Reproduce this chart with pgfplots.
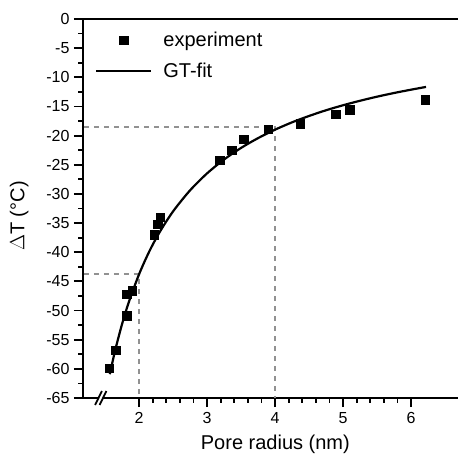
\documentclass[border=0pt]{standalone}
\usepackage{fontspec}
\setmainfont{Liberation Sans}
\usepackage{pgfplots}
\pgfplotsset{compat=1.18}
\usetikzlibrary{calc}
\definecolor{dashgray}{RGB}{145,145,145}
\pgfplotsset{
  markleg/.style={legend image code/.code={\draw[##1] plot coordinates {(27.5pt,0pt)};}},
  lineleg/.style={legend image code/.code={\draw[##1] (0pt,0pt) -- (55pt,0pt);}},
}
\begin{document}
\begin{tikzpicture}
\begin{axis}[
  at={(0,0)}, anchor=south west,
  scale only axis, width=375pt, height=379pt,
  xmin=1.176, xmax=6.69, ymin=-65, ymax=0,
  axis x line=box, axis y line=left,
  axis line style={-, line width=2pt},
  xtick={2,3,4,5,6}, minor x tick num=4,
  ytick={-65,-60,...,0}, minor y tick num=1,
  xtick pos=bottom, ytick pos=left,
  tick align=outside,
  major tick length=9pt, minor tick length=4.5pt,
  every tick/.style={black, line width=1.8pt},
  /pgf/number format/assume math mode=true,
  tick label style={font=\fontsize{16}{19}\selectfont},
  xticklabel style={yshift=-2pt},
  yticklabel style={xshift=-1pt},
  xlabel={Pore radius (nm)},
  ylabel={$\Delta$T (°C)},
  every axis x label/.style={at={(axis description cs:0.513,-0.137)}, anchor=base, font=\fontsize{20}{24}\selectfont},
  every axis y label/.style={at={(axis description cs:-0.17,0.48)}, rotate=90, anchor=center, font=\fontsize{20}{24}\selectfont},
  clip=false,
  legend style={draw=none, fill=none, at={(axis description cs:0,1)}, anchor=north west,
    xshift=12pt, yshift=-11pt, inner sep=0pt, row sep=11pt,
    font=\fontsize{20}{24}\selectfont, cells={anchor=west},
    /tikz/every odd column/.append style={column sep=9pt}},
  legend cell align=left,
]
% dashed guide lines
\addplot[dashgray, line width=2pt, dash pattern=on 5pt off 5pt, forget plot] coordinates {(1.19,-18.6) (4,-18.6) (4,-65)};
\addplot[dashgray, line width=2pt, dash pattern=on 5pt off 5pt, forget plot] coordinates {(1.19,-43.8) (2,-43.8) (2,-65)};
% experiment
\addplot[only marks, mark=square*, mark size=4.3pt, black, markleg]
coordinates {
(1.56,-59.9) (1.66,-56.8) (1.82,-50.9) (1.82,-47.2) (1.90,-46.6)
(2.22,-37.0) (2.27,-35.2) (2.31,-34.0) (3.19,-24.2) (3.36,-22.5)
(3.54,-20.6) (3.90,-18.9) (4.37,-18.0) (4.89,-16.3) (5.10,-15.6) (6.21,-13.8)
};
\addlegendentry{experiment}
% GT fit
\addplot[black, line width=2.2pt, smooth, mark=none, lineleg]
coordinates {
(1.57,-60.91) (1.65,-56.78) (1.75,-52.34) (1.85,-48.55) (2.0,-43.79)
(2.15,-39.88) (2.3,-36.61) (2.5,-33.00) (2.75,-29.39) (3.0,-26.48)
(3.25,-24.10) (3.5,-22.11) (3.75,-20.43) (4.0,-18.98) (4.25,-17.72)
(4.5,-16.63) (4.75,-15.65) (5.0,-14.79) (5.25,-14.02) (5.5,-13.32)
(5.75,-12.69) (6.0,-12.12) (6.22,-11.65)
};
\addlegendentry{GT-fit}
% axis break
\fill[white] ($(axis cs:1.404,-65)+(-3.4pt,-7pt)$) -- ($(axis cs:1.404,-65)+(3.4pt,7pt)$) -- ($(axis cs:1.470,-65)+(3.4pt,7pt)$) -- ($(axis cs:1.470,-65)+(-3.4pt,-7pt)$) -- cycle;
\draw[line width=1.8pt] ($(axis cs:1.404,-65)+(-3.4pt,-7pt)$) -- ($(axis cs:1.404,-65)+(3.4pt,7pt)$);
\draw[line width=1.8pt] ($(axis cs:1.470,-65)+(-3.4pt,-7pt)$) -- ($(axis cs:1.470,-65)+(3.4pt,7pt)$);
\end{axis}
\pgfresetboundingbox
\path[use as bounding box] (-83pt,-55pt) rectangle (375pt,398pt);
\end{tikzpicture}
\end{document}
